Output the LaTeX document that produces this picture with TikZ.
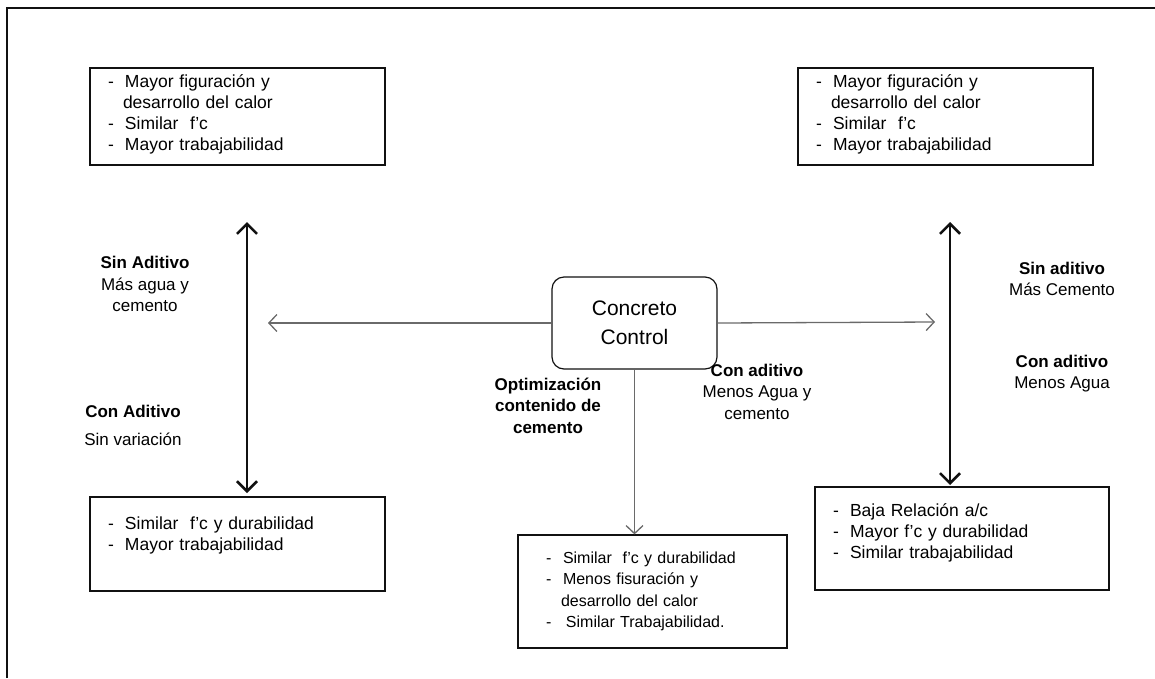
\documentclass[tikz,border=0pt]{standalone}
\usepackage{fontspec}
\setmainfont{Liberation Sans}
\usepackage{tikz}
\usetikzlibrary{arrows.meta,positioning,calc}
\definecolor{ccdark}{HTML}{111111}
\definecolor{ccgrey}{HTML}{6A6A6A}
\newcommand{\itm}[1]{\makebox[17pt][l]{-}#1}
\newcommand{\cnt}[1]{\hspace*{15pt}#1}

\begin{document}
\begin{tikzpicture}[x=1pt,y=-1pt,
  box/.style={draw=ccdark,line width=1.2pt,align=left,inner xsep=18pt,inner ysep=0pt,font=\fontsize{17.5}{21}\selectfont},
  ctrl/.style={draw=ccdark,line width=1.2pt,rounded corners=12pt,align=center,font=\fontsize{21}{29}\selectfont},
  lbl/.style={align=center,font=\fontsize{17}{21.5}\selectfont},
  dbl/.style={ccdark,line width=2.6pt,{Straight Barb[length=10pt,width=20pt]}-{Straight Barb[length=10pt,width=20pt]}},
  feed/.style={ccgrey,line width=1.3pt,-{Straight Barb[length=8pt,width=17pt]}}]
\useasboundingbox (0,0) rectangle (1155,678);
\draw[ccdark,line width=1.6pt] (7,678) -- (7,8) -- (1155,8);

% centre
\node[ctrl,minimum width=165pt,minimum height=92pt] (cc) at (634.5,323) {Concreto\\Control};

% result boxes
\node[box,text width=259pt,minimum height=97pt] (tl) at (237.5,116.5)
  {\mbox{}\\[-12pt]\itm{Mayor figuración y}\\ \cnt{desarrollo del calor}\\ \itm{Similar\ \ f'c}\\ \itm{Mayor trabajabilidad}};
\node[box,text width=259pt,minimum height=97pt] (tr) at (945.5,116.5)
  {\mbox{}\\[-12pt]\itm{Mayor figuración y}\\ \cnt{desarrollo del calor}\\ \itm{Similar\ \ f'c}\\ \itm{Mayor trabajabilidad}};
\node[box,text width=259pt,minimum height=94pt] (bl) at (237.5,544)
  {\itm{Similar\ \ f'c y durabilidad}\\ \itm{Mayor trabajabilidad}\\ \mbox{}};
\node[box,text width=258pt,minimum height=103pt] (br) at (962,538.5)
  {\itm{Baja Relación a/c}\\ \itm{Mayor f'c y durabilidad}\\ \itm{Similar trabajabilidad}\\[-6pt]\mbox{}};
\node[box,inner xsep=28pt,text width=213pt,minimum height=113pt,font=\fontsize{16}{21.5}\selectfont] (bc) at (652.5,591.5)
  {\itm{Similar\ \ f'c y durabilidad}\\ \itm{Menos fisuración y}\\ \cnt{desarrollo del calor}\\ \itm{\hspace{3pt}Similar Trabajabilidad.}};

% labels
\node[lbl] (sinA) at (145,284) {\textbf{Sin Aditivo}\\Más agua y\\cemento};
\node[lbl] (conA) at (133,425.5) {\textbf{Con Aditivo}\\[7pt]Sin variación};
\node[lbl] (opt) at (548,405.5) {\textbf{Optimización}\\\textbf{contenido de}\\\textbf{cemento}};
\node[lbl] (conB) at (757,391.5) {\textbf{Con aditivo}\\Menos Agua y\\cemento};
\node[lbl] (sinB) at (1062,279) {\textbf{Sin aditivo}\\Más Cemento};
\node[lbl] (conC) at (1062,373.5) {\textbf{Con aditivo}\\Menos Agua};

% arrows
\coordinate (lup) at (247,222);
\coordinate (ldown) at (247,493);
\coordinate (rup) at (950,222);
\coordinate (rdown) at (950,485);
\coordinate (lend) at (268,323);
\coordinate (rend) at (935,322);
\draw[dbl] (lup) -- (ldown);
\draw[dbl] (rup) -- (rdown);
\draw[feed] (cc.west) -- (lend);
\draw[feed] (cc.east) -- (rend);
\draw[feed] (cc.south) -- (cc.south |- bc.north);
\end{tikzpicture}
\end{document}
